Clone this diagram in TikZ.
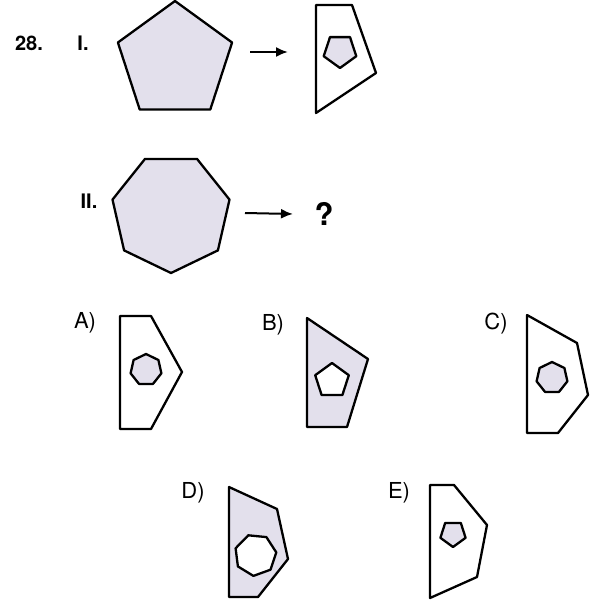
\documentclass[tikz,border=0pt]{standalone}
\usepackage{fontspec}
\setmainfont{TeX Gyre Heros}
\usetikzlibrary{arrows.meta}
\definecolor{lavish}{HTML}{E3E0EC}

\begin{document}
\begin{tikzpicture}[x=1pt,y=-1pt,line width=2.3pt,line join=round,
        num/.style={font=\bfseries\fontsize{20}{20}\selectfont,inner sep=0pt},
        opt/.style={font=\fontsize{22}{22}\selectfont,inner sep=0pt},
        go/.style={line width=2pt,-{Latex[length=12pt,width=10pt]}}]
        \useasboundingbox (0,0) rectangle (594,605);
        % labels
        \node[num] (q) at (29,43) {28.};
        \node[num] (one) at (83,43) {I.};
        \node[num] (two) at (89,201) {II.};
        \node[font=\bfseries\fontsize{31}{31}\selectfont,inner sep=0pt] (ask) at (324,214) {?};
        \node[opt] (la) at (85,323) {A)};
        \node[opt] (lb) at (273,325) {B)};
        \node[opt] (lc) at (496,324) {C)};
        \node[opt] (ld) at (193,493) {D)};
        \node[opt] (le) at (399,493) {E)};
        % I.
        \filldraw[fill=lavish] (175,1) -- (232.1,42.5) -- (210.3,109.5) -- (139.7,109.5) -- (117.9,42.5) -- cycle;
        \coordinate (i1) at (250,52);
        \coordinate (i2) at (288,52);
        \draw[go] (i1) -- (i2);
        \draw (316,5) -- (352,5) -- (376,73) -- (316,113) -- cycle;
        \filldraw[fill=lavish] (330,37.1) -- (350,37.1) -- (356.3,56.2) -- (340,68) -- (323.7,56.2) -- cycle;
        % II.
        \filldraw[fill=lavish] (171,273) -- (124.1,250.4) -- (112.5,199.6) -- (145,158.9) -- (197,158.9) -- (229.5,199.6) -- (217.9,250.4) -- cycle;
        \coordinate (j1) at (245,213);
        \draw[go] (j1) -- (ask.west -| 293,0);
        % A)
        \draw (120,316) -- (151,316) -- (182,372) -- (151,429) -- (120,429) -- cycle;
        \filldraw[fill=lavish] (146,354) -- (158.4,360) -- (161.4,373.3) -- (152.9,384) -- (139.1,384) -- (130.6,373.3) -- (133.6,360) -- cycle;
        % B)
        \filldraw[fill=lavish] (307,318) -- (368,359) -- (347,427) -- (307,427) -- cycle;
        \filldraw[fill=white] (332,363) -- (348.8,375.2) -- (342.4,395) -- (321.6,395) -- (315.2,375.2) -- cycle;
        % C)
        \draw (527,315) -- (577,343) -- (588,395) -- (558,433) -- (527,433) -- cycle;
        \filldraw[fill=lavish] (552,362) -- (564.4,368) -- (567.4,381.3) -- (558.9,392) -- (545.1,392) -- (536.6,381.3) -- (539.6,368) -- cycle;
        % D)
        \filldraw[fill=lavish] (229,487) -- (277,509) -- (288,559) -- (258,597) -- (229,597) -- cycle;
        \filldraw[fill=white] (248.3,535.3) -- (266.4,537.1) -- (276.3,552.4) -- (270.5,569.7) -- (253.4,575.9) -- (237.9,566.4) -- (235.6,548.3) -- cycle;
        % E)
        \draw (430,485) -- (454,485) -- (487,525) -- (477,577) -- (430,598) -- cycle;
        \filldraw[fill=lavish] (445.2,522.9) -- (460.8,522.9) -- (465.6,537.8) -- (453,547) -- (440.4,537.8) -- cycle;
    \end{tikzpicture}
\end{document}
